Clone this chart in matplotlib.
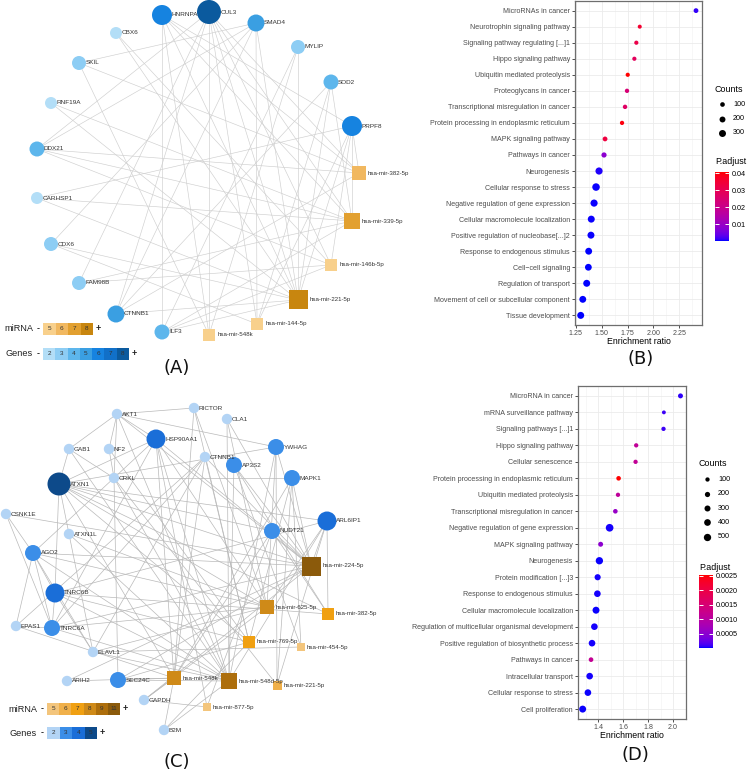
import numpy as np
import matplotlib
matplotlib.use("Agg")
import matplotlib.pyplot as plt
from matplotlib.colors import LinearSegmentedColormap, Normalize
from matplotlib.cm import ScalarMappable
from matplotlib.patches import Rectangle

plt.rcParams['font.family'] = ['Liberation Sans', 'DejaVu Sans']

# ---------------- DATA ----------------
# Panel A network
A_gene_names = ["CUL3", "HNRNPA", "SMAD4", "CBX6", "MYLIP", "SKIL", "SOD2", "RNF19A", "PRPF8",
                "DDX21", "CARHSP1", "CDX6", "FAM98B", "CTNNB1", "ILF3"]
A_gene_x = [209, 162, 256, 116, 298, 79, 331, 51, 352, 37, 37, 51, 79, 116, 162]
A_gene_y = [12, 15, 23, 33, 47, 63, 82, 103, 126, 149, 198, 244, 283, 314, 332]
A_gene_level = [8, 6, 5, 2, 3, 3, 4, 2, 6, 4, 2, 3, 3, 5, 4]
A_mir_names = ["hsa-mir-382-5p", "hsa-mir-339-5p", "hsa-mir-146b-5p", "hsa-mir-221-5p",
               "hsa-mir-144-5p", "hsa-mir-548k"]
A_mir_x = [359, 352, 331, 298, 257, 209]
A_mir_y = [173, 221, 265, 300, 324, 335]
A_mir_level = [6, 7, 5, 8, 5, 5]
A_edges = [
    ("CUL3", "hsa-mir-221-5p"), ("CUL3", "hsa-mir-339-5p"), ("CUL3", "hsa-mir-382-5p"),
    ("CUL3", "hsa-mir-146b-5p"), ("CUL3", "hsa-mir-144-5p"), ("CUL3", "hsa-mir-548k"),
    ("CUL3", "DDX21"), ("CUL3", "CTNNB1"), ("CUL3", "FAM98B"),
    ("HNRNPA", "ILF3"), ("HNRNPA", "hsa-mir-221-5p"), ("HNRNPA", "hsa-mir-339-5p"),
    ("HNRNPA", "hsa-mir-382-5p"), ("HNRNPA", "PRPF8"), ("HNRNPA", "hsa-mir-548k"),
    ("SMAD4", "hsa-mir-144-5p"), ("SMAD4", "SKIL"), ("SMAD4", "CTNNB1"),
    ("SMAD4", "hsa-mir-221-5p"), ("SMAD4", "CDX6"), ("SMAD4", "DDX21"),
    ("CBX6", "hsa-mir-221-5p"), ("CBX6", "hsa-mir-146b-5p"),
    ("MYLIP", "hsa-mir-221-5p"), ("MYLIP", "ILF3"), ("MYLIP", "hsa-mir-548k"),
    ("SKIL", "hsa-mir-382-5p"), ("SKIL", "hsa-mir-548k"),
    ("SOD2", "hsa-mir-339-5p"), ("SOD2", "hsa-mir-221-5p"), ("SOD2", "hsa-mir-144-5p"),
    ("SOD2", "CTNNB1"),
    ("RNF19A", "hsa-mir-339-5p"), ("RNF19A", "hsa-mir-221-5p"),
    ("PRPF8", "hsa-mir-382-5p"), ("PRPF8", "hsa-mir-146b-5p"), ("PRPF8", "hsa-mir-221-5p"),
    ("PRPF8", "hsa-mir-144-5p"), ("PRPF8", "CARHSP1"), ("PRPF8", "hsa-mir-339-5p"),
    ("DDX21", "hsa-mir-382-5p"), ("DDX21", "hsa-mir-146b-5p"), ("DDX21", "hsa-mir-339-5p"),
    ("CARHSP1", "hsa-mir-339-5p"), ("CARHSP1", "hsa-mir-221-5p"),
    ("CDX6", "hsa-mir-144-5p"), ("CDX6", "hsa-mir-221-5p"),
    ("FAM98B", "hsa-mir-146b-5p"), ("FAM98B", "hsa-mir-339-5p"),
    ("CTNNB1", "hsa-mir-221-5p"), ("CTNNB1", "hsa-mir-382-5p"),
    ("ILF3", "hsa-mir-221-5p"), ("ILF3", "hsa-mir-339-5p"), ("ILF3", "hsa-mir-146b-5p"),
]
A_mir_scale = [5, 6, 7, 8]
A_gene_scale = [2, 3, 4, 5, 6, 7, 8]

# Panel C network
C_gene_names = ["AKT1", "RICTOR", "OLA1", "GAB1", "NF2", "HSP90AA1", "YWHAG", "CTNNB1", "AP3S2",
                "ATXN1", "CRKL", "MAPK1", "CSNK1E", "ATXN1L", "NUDT21", "ARL6IP1", "AGO2",
                "TNRC6B", "EPAS1", "TNRC6A", "ELAVL1", "ARIH2", "SEC24C", "GAPDH", "B2M"]
C_gene_x = [117, 194, 227, 69, 109, 156, 276, 205, 234, 59, 114, 292, 6, 69, 272, 327, 33,
            55, 16, 52, 93, 67, 118, 144, 164]
C_gene_y = [414, 408, 419, 449, 449, 439, 447, 457, 465, 484, 478, 478, 514, 534, 531, 521, 553,
            593, 626, 628, 652, 681, 680, 700, 730]
C_gene_level = [2, 2, 2, 2, 2, 4, 3, 2, 3, 5, 2, 3, 2, 2, 3, 4, 3, 4, 2, 3, 2, 2, 3, 2, 2]
C_mir_names = ["hsa-mir-224-5p", "hsa-mir-625-5p", "hsa-mir-382-5p", "hsa-mir-769-5p",
               "hsa-mir-454-5p", "hsa-mir-548k", "hsa-mir-548d-5p", "hsa-mir-221-5p",
               "hsa-mir-877-5p"]
C_mir_x = [311, 267, 328, 249, 301, 174, 229, 277, 207]
C_mir_y = [566, 607, 614, 642, 647, 678, 681, 685, 707]
C_mir_level = [11, 8, 7, 7, 5, 8, 9, 6, 5]
C_edges = [
    ("AKT1", "RICTOR"), ("AKT1", "GAB1"), ("AKT1", "NF2"), ("AKT1", "HSP90AA1"), ("AKT1", "CRKL"),
    ("AKT1", "YWHAG"), ("AKT1", "hsa-mir-224-5p"), ("AKT1", "hsa-mir-548d-5p"),
    ("RICTOR", "hsa-mir-548k"), ("RICTOR", "hsa-mir-769-5p"), ("RICTOR", "hsa-mir-625-5p"),
    ("OLA1", "hsa-mir-224-5p"), ("OLA1", "hsa-mir-625-5p"), ("OLA1", "hsa-mir-548d-5p"),
    ("GAB1", "CRKL"), ("GAB1", "ATXN1"), ("GAB1", "hsa-mir-548d-5p"),
    ("NF2", "hsa-mir-769-5p"), ("NF2", "CRKL"),
    ("HSP90AA1", "hsa-mir-224-5p"), ("HSP90AA1", "hsa-mir-548d-5p"), ("HSP90AA1", "hsa-mir-548k"),
    ("HSP90AA1", "hsa-mir-625-5p"), ("HSP90AA1", "AGO2"), ("HSP90AA1", "ATXN1"),
    ("HSP90AA1", "hsa-mir-877-5p"), ("HSP90AA1", "TNRC6A"),
    ("YWHAG", "hsa-mir-224-5p"), ("YWHAG", "hsa-mir-625-5p"), ("YWHAG", "hsa-mir-221-5p"),
    ("YWHAG", "hsa-mir-548d-5p"), ("YWHAG", "ATXN1"),
    ("CTNNB1", "hsa-mir-224-5p"), ("CTNNB1", "hsa-mir-769-5p"), ("CTNNB1", "hsa-mir-548k"),
    ("CTNNB1", "ELAVL1"), ("CTNNB1", "TNRC6A"), ("CTNNB1", "EPAS1"),
    ("AP3S2", "hsa-mir-548d-5p"), ("AP3S2", "hsa-mir-224-5p"), ("AP3S2", "hsa-mir-382-5p"),
    ("AP3S2", "hsa-mir-454-5p"),
    ("ATXN1", "hsa-mir-224-5p"), ("ATXN1", "hsa-mir-625-5p"), ("ATXN1", "hsa-mir-769-5p"),
    ("ATXN1", "hsa-mir-382-5p"), ("ATXN1", "ATXN1L"), ("ATXN1", "NUDT21"), ("ATXN1", "ARL6IP1"),
    ("ATXN1", "hsa-mir-548k"), ("ATXN1", "TNRC6B"),
    ("CRKL", "MAPK1"), ("CRKL", "hsa-mir-548d-5p"), ("CRKL", "hsa-mir-221-5p"), ("CRKL", "SEC24C"),
    ("MAPK1", "hsa-mir-224-5p"), ("MAPK1", "hsa-mir-454-5p"), ("MAPK1", "hsa-mir-769-5p"),
    ("MAPK1", "hsa-mir-548k"), ("MAPK1", "hsa-mir-221-5p"),
    ("CSNK1E", "AGO2"), ("CSNK1E", "TNRC6A"), ("CSNK1E", "hsa-mir-224-5p"),
    ("ATXN1L", "hsa-mir-625-5p"), ("ATXN1L", "hsa-mir-548d-5p"), ("ATXN1L", "ELAVL1"),
    ("NUDT21", "hsa-mir-224-5p"), ("NUDT21", "hsa-mir-382-5p"), ("NUDT21", "hsa-mir-548k"),
    ("NUDT21", "hsa-mir-877-5p"),
    ("ARL6IP1", "hsa-mir-224-5p"), ("ARL6IP1", "hsa-mir-382-5p"), ("ARL6IP1", "hsa-mir-625-5p"),
    ("ARL6IP1", "hsa-mir-548d-5p"), ("ARL6IP1", "hsa-mir-221-5p"), ("ARL6IP1", "TNRC6B"),
    ("AGO2", "TNRC6B"), ("AGO2", "TNRC6A"), ("AGO2", "hsa-mir-224-5p"), ("AGO2", "hsa-mir-625-5p"),
    ("AGO2", "hsa-mir-548d-5p"), ("AGO2", "EPAS1"), ("AGO2", "ELAVL1"),
    ("TNRC6B", "TNRC6A"), ("TNRC6B", "hsa-mir-769-5p"), ("TNRC6B", "hsa-mir-548d-5p"),
    ("TNRC6B", "hsa-mir-382-5p"), ("TNRC6B", "ELAVL1"),
    ("EPAS1", "TNRC6A"), ("EPAS1", "hsa-mir-548k"),
    ("TNRC6A", "hsa-mir-224-5p"), ("TNRC6A", "hsa-mir-625-5p"), ("TNRC6A", "hsa-mir-548d-5p"),
    ("ELAVL1", "hsa-mir-625-5p"), ("ELAVL1", "hsa-mir-548d-5p"), ("ELAVL1", "hsa-mir-454-5p"),
    ("ARIH2", "hsa-mir-548k"), ("ARIH2", "hsa-mir-224-5p"),
    ("SEC24C", "hsa-mir-548d-5p"), ("SEC24C", "hsa-mir-769-5p"), ("SEC24C", "hsa-mir-224-5p"),
    ("SEC24C", "hsa-mir-548k"),
    ("GAPDH", "hsa-mir-548k"), ("GAPDH", "hsa-mir-877-5p"), ("GAPDH", "hsa-mir-224-5p"),
    ("GAPDH", "hsa-mir-625-5p"),
    ("B2M", "hsa-mir-548d-5p"), ("B2M", "hsa-mir-769-5p"), ("B2M", "hsa-mir-548k"),
]
C_mir_scale = [5, 6, 7, 8, 9, 11]
C_gene_scale = [2, 3, 4, 5]

# Panel B dot plot
B_terms = ["MicroRNAs in cancer", "Neurotrophin signaling pathway",
           "Signaling pathway regulating [...]1", "Hippo signaling pathway",
           "Ubiquitin mediated proteolysis", "Proteoglycans in cancer",
           "Transcriptional misregulation in cancer", "Protein processing in endoplasmic reticulum",
           "MAPK signaling pathway", "Pathways in cancer", "Neurogenesis",
           "Cellular response to stress", "Negative regulation of gene expression",
           "Cellular macromolecule localization", "Positive regulation of nucleobase[...]2",
           "Response to endogenous stimulus", "Cell\u2212cell signaling", "Regulation of transport",
           "Movement of cell or subcellular component", "Tissue development"]
B_ratio = [2.411, 1.868, 1.835, 1.816, 1.752, 1.745, 1.726, 1.697, 1.533, 1.523, 1.475, 1.446,
           1.427, 1.400, 1.397, 1.375, 1.372, 1.356, 1.318, 1.298]
B_counts = [110, 60, 70, 70, 70, 80, 85, 75, 110, 140, 320, 360, 320, 300, 300, 290, 280, 300,
            290, 300]
B_padj = [0.0010, 0.0355, 0.0315, 0.0285, 0.0405, 0.0240, 0.0270, 0.0395, 0.0330, 0.0080,
          0.0005, 0.0003, 0.0002, 0.0002, 0.0002, 0.0001, 0.0001, 0.0001, 0.0001, 0.0001]
B_count_breaks = [100, 200, 300]
B_padj_breaks = [0.01, 0.02, 0.03, 0.04]

# Panel D dot plot
D_terms = ["MicroRNA in cancer", "mRNA surveillance pathway", "Signaling pathways [...]1",
           "Hippo signaling pathway", "Cellular senescence",
           "Protein processing in endoplasmic reticulum", "Ubiquitin mediated proteolysis",
           "Transcriptional misregulation in cancer", "Negative regulation of gene expression",
           "MAPK signaling pathway", "Neurogenesis", "Protein modification [...]3",
           "Response to endogenous stimulus", "Cellular macromolecule localization",
           "Regulation of multicellular organismal development",
           "Positive regulation of biosynthetic process", "Pathways in cancer",
           "Intracellular transport", "Cellular response to stress", "Cell proliferation"]
D_ratio = [2.059, 1.926, 1.923, 1.704, 1.699, 1.563, 1.558, 1.537, 1.491, 1.419, 1.409, 1.395,
           1.393, 1.382, 1.369, 1.350, 1.342, 1.331, 1.317, 1.275]
D_counts = [170, 60, 100, 100, 100, 130, 100, 130, 560, 170, 500, 320, 390, 440, 390, 390, 135,
            390, 390, 440]
D_padj = [0.00005, 0.00008, 0.00008, 0.00110, 0.00112, 0.00252, 0.00108, 0.00060, 0.00002,
          0.00050, 0.00001, 0.00002, 0.00002, 0.00001, 0.00002, 0.00002, 0.00115, 0.00002,
          0.00001, 0.00001]
D_count_breaks = [100, 200, 300, 400, 500]
D_padj_breaks = [0.0005, 0.0010, 0.0015, 0.0020, 0.0025]

# ---------------- STYLE ----------------
W, H = 748, 772
fig = plt.figure(figsize=(W / 100, H / 100), dpi=100)


def px_axes(x0, y0, x1, y1, **kw):
    return fig.add_axes([x0 / W, 1 - y1 / H, (x1 - x0) / W, (y1 - y0) / H], **kw)


overlay = px_axes(0, 0, W, H)
overlay.set_xlim(0, W)
overlay.set_ylim(H, 0)
overlay.axis('off')


# Lab-interpolated blue->red gradient (ggplot style)
def _lin(c):
    return np.where(c <= 0.04045, c / 12.92, ((c + 0.055) / 1.055) ** 2.4)


def _gam(c):
    c = np.clip(c, 0, 1)
    return np.where(c <= 0.0031308, 12.92 * c, 1.055 * np.power(c, 1 / 2.4) - 0.055)


_M = np.array([[0.4124, 0.3576, 0.1805], [0.2126, 0.7152, 0.0722], [0.0193, 0.1192, 0.9505]])
_WP = np.array([0.95047, 1.0, 1.08883])
_d = 6 / 29


def to_lab(rgb):
    xyz = _M @ _lin(np.array(rgb, float)) / _WP
    f = np.where(xyz > _d ** 3, np.cbrt(xyz), xyz / (3 * _d ** 2) + 4 / 29)
    return np.array([116 * f[1] - 16, 500 * (f[0] - f[1]), 200 * (f[1] - f[2])])


def from_lab(lab):
    fy = (lab[0] + 16) / 116
    f = np.array([fy + lab[1] / 500, fy, fy - lab[2] / 200])
    xyz = np.where(f > _d, f ** 3, 3 * _d ** 2 * (f - 4 / 29)) * _WP
    return _gam(np.linalg.inv(_M) @ xyz)


lb, lr = to_lab([0, 0, 1]), to_lab([1, 0, 0])
cm_colors = [from_lab(lb + (lr - lb) * t) for t in np.linspace(0, 1, 64)]
cmap = LinearSegmentedColormap.from_list("bluered", cm_colors)

# ---------------- NETWORKS ----------------
A_gene_r = {2: 6, 3: 7, 4: 7.5, 5: 8.5, 6: 10, 7: 11, 8: 12}
A_mir_side = {5: 12.5, 6: 13.5, 7: 16, 8: 19}
A_gene_col = {2: '#B3DEF7', 3: '#8DCDF4', 4: '#5DB6EC', 5: '#3A9FE2', 6: '#1683E0',
              7: '#1170C8', 8: '#0B5A9E'}
A_mir_col = {5: '#F8D08C', 6: '#F1B860', 7: '#E2A030', 8: '#C8860F'}
C_gene_r = {2: 5.2, 3: 8, 4: 9.5, 5: 11.5}
C_mir_side = {5: 8, 6: 9, 7: 11.5, 8: 13.5, 9: 16, 11: 19}
C_gene_col = {2: '#B3D4F5', 3: '#3B8EE8', 4: '#1A6ED8', 5: '#0D4A8A'}
C_mir_col = {5: '#F3C57C', 6: '#F0B04A', 7: '#F0A012', 8: '#CF8A18', 9: '#AD6E0C', 11: '#8B5A0B'}

PT = 0.72  # points per pixel


def draw_network(ax, gnames, gx, gy, glev, mnames, mx, my, mlev, edges,
                 grad, mside, gcol, mcol, ecolor, elw):
    pos = {n: (x, y) for n, x, y in zip(gnames, gx, gy)}
    pos.update({n: (x, y) for n, x, y in zip(mnames, mx, my)})
    for a, b in edges:
        (x0, y0), (x1, y1) = pos[a], pos[b]
        ax.plot([x0, x1], [y0, y1], color=ecolor, lw=elw, zorder=1, solid_capstyle='butt')
    ax.scatter(gx, gy, s=[(2 * grad[l] * PT) ** 2 for l in glev],
               c=[gcol[l] for l in glev], marker='o', linewidths=0, zorder=3)
    ax.scatter(mx, my, s=[(mside[l] * PT) ** 2 for l in mlev],
               c=[mcol[l] for l in mlev], marker='s', linewidths=0, zorder=3)
    for n, x, y, l in zip(gnames, gx, gy, glev):
        ax.text(x + grad[l] - 0.5, y, n, fontsize=4.6, va='center', ha='left',
                color='#333333', zorder=4)
    for n, x, y, l in zip(mnames, mx, my, mlev):
        ax.text(x + mside[l] / 2 + 2, y, n, fontsize=4.4, va='center', ha='left',
                color='#333333', zorder=4)


def draw_scale(ax, x0, y0, x1, h, levels, cols, title):
    w = (x1 - x0) / len(levels)
    for i, l in enumerate(levels):
        ax.add_patch(Rectangle((x0 + i * w, y0), w, h, facecolor=cols[l], edgecolor='none',
                               zorder=5))
        ax.text(x0 + (i + 0.5) * w, y0 + h / 2, str(l), fontsize=4.6, ha='center', va='center',
                color='#333333', zorder=6)
    ax.text(x0 - 5, y0 + h / 2, "-", fontsize=6.5, ha='center', va='center', color='#222222',
            fontweight='bold')
    ax.text(x1 + 5, y0 + h / 2, "+", fontsize=6.5, ha='center', va='center', color='#222222',
            fontweight='bold')
    ax.text(x0 - 10, y0 + h / 2, title, fontsize=6.6, ha='right', va='center', color='#222222')


axA = px_axes(0, 0, 380, 372)
axA.set_xlim(0, 380)
axA.set_ylim(372, 0)
axA.axis('off')
draw_network(axA, A_gene_names, A_gene_x, A_gene_y, A_gene_level,
             A_mir_names, A_mir_x, A_mir_y, A_mir_level, A_edges,
             A_gene_r, A_mir_side, A_gene_col, A_mir_col, '#cfcfcf', 0.45)
draw_scale(axA, 43, 323, 93, 12, A_mir_scale, A_mir_col, "miRNA")
draw_scale(axA, 43, 348, 129, 12, A_gene_scale, A_gene_col, "Genes")

axC = px_axes(0, 372, 380, 772)
axC.set_xlim(0, 380)
axC.set_ylim(772, 372)
axC.axis('off')
draw_network(axC, C_gene_names, C_gene_x, C_gene_y, C_gene_level,
             C_mir_names, C_mir_x, C_mir_y, C_mir_level, C_edges,
             C_gene_r, C_mir_side, C_gene_col, C_mir_col, '#b9b9b9', 0.5)
draw_scale(axC, 47, 703, 120, 12, C_mir_scale, C_mir_col, "miRNA")
draw_scale(axC, 47, 727, 97, 12, C_gene_scale, C_gene_col, "Genes")


# ---------------- DOT PLOTS ----------------
def dotplot(box, terms, ratio, counts, padj, xlim, xticks, xtl, minor, size_fn, norm):
    ax = px_axes(*box)
    n = len(terms)
    y = np.arange(n)[::-1]
    ax.scatter(ratio, y, s=size_fn(np.array(counts)), c=padj, cmap=cmap, norm=norm,
               linewidths=0, zorder=3)
    ax.set_ylim(-0.6, n - 0.4)
    ax.set_xlim(*xlim)
    ax.set_yticks(y)
    ax.set_yticklabels(terms, fontsize=5.1, color='#4D4D4D')
    ax.set_xticks(xticks)
    ax.set_xticklabels(xtl, fontsize=5.1, color='#4D4D4D')
    ax.set_xticks(minor, minor=True)
    ax.tick_params(axis='both', which='major', length=2, width=0.6, color='#333333', pad=1.5)
    ax.tick_params(axis='x', which='minor', length=0)
    ax.grid(True, which='major', color='#EBEBEB', lw=0.6, zorder=0)
    ax.grid(True, which='minor', axis='x', color='#F2F2F2', lw=0.4, zorder=0)
    ax.set_axisbelow(True)
    for sp in ax.spines.values():
        sp.set_color('#6E6E6E')
        sp.set_linewidth(0.9)
    return ax


def sizeB(c):
    return 1.35 * (PT ** 2) * (6 + 0.1 * c)


def sizeD(c):
    return 1.35 * (PT ** 2) * (7.2 + 0.065 * c)


normB = Normalize(vmin=0.0, vmax=0.0406)
normD = Normalize(vmin=0.0, vmax=0.00252)

dotplot((574.9, 1, 701.8, 325), B_terms, B_ratio, B_counts, B_padj, (1.242, 2.467),
        [1.25, 1.5, 1.75, 2.0, 2.25], ["1.25", "1.50", "1.75", "2.00", "2.25"],
        [1.375, 1.625, 1.875, 2.125, 2.375], sizeB, normB)
dotplot((577.8, 386, 685.6, 719), D_terms, D_ratio, D_counts, D_padj, (1.236, 2.098),
        [1.4, 1.6, 1.8, 2.0], ["1.4", "1.6", "1.8", "2.0"],
        [1.3, 1.5, 1.7, 1.9, 2.1], sizeD, normD)

# axis titles & panel labels
overlay.text(639, 342, "Enrichment ratio", fontsize=6.3, ha='center', va='center', color='black')
overlay.text(632, 736, "Enrichment ratio", fontsize=6.3, ha='center', va='center', color='black')
for lab, x, y in [("(A)", 177, 368), ("(B)", 641, 359), ("(C)", 177, 762), ("(D)", 635, 755)]:
    overlay.text(x, y, lab, fontsize=13, ha='center', va='center', color='#111111',
                 family=['DejaVu Sans'])

# size legends
overlay.text(715, 90, "Counts", fontsize=6.4, ha='left', va='center', color='black')
for i, b in enumerate(B_count_breaks):
    overlay.scatter([722], [104 + i * 14.5], s=sizeB(b), c='black', linewidths=0)
    overlay.text(733, 104 + i * 14.5, str(b), fontsize=5.2, ha='left', va='center', color='black')
overlay.text(699, 463, "Counts", fontsize=6.4, ha='left', va='center', color='black')
for i, b in enumerate(D_count_breaks):
    overlay.scatter([707], [479.3 + i * 14.35], s=sizeD(b), c='black', linewidths=0)
    overlay.text(718, 479.3 + i * 14.35, str(b), fontsize=5.2, ha='left', va='center',
                 color='black')

# colour legends
overlay.text(715, 162, "P.adjust", fontsize=6.4, ha='left', va='center', color='black')
overlay.text(699, 567, "P.adjust", fontsize=6.4, ha='left', va='center', color='black')


def colorbar(box, norm, ticks, fmt):
    cax = px_axes(*box)
    cb = fig.colorbar(ScalarMappable(norm=norm, cmap=cmap), cax=cax)
    cb.outline.set_visible(False)
    cb.set_ticks(ticks)
    cb.set_ticklabels([fmt % t for t in ticks])
    cax.tick_params(which='both', direction='in', color='white', width=0.7, length=2.6,
                    labelsize=5.2, pad=2, left=True, right=True)
    cax.minorticks_off()


colorbar((715, 172, 729, 241), normB, B_padj_breaks, "%.2f")
colorbar((699, 575, 713, 648), normD, D_padj_breaks, "%.4f")

fig.savefig("out.png", dpi=100)
